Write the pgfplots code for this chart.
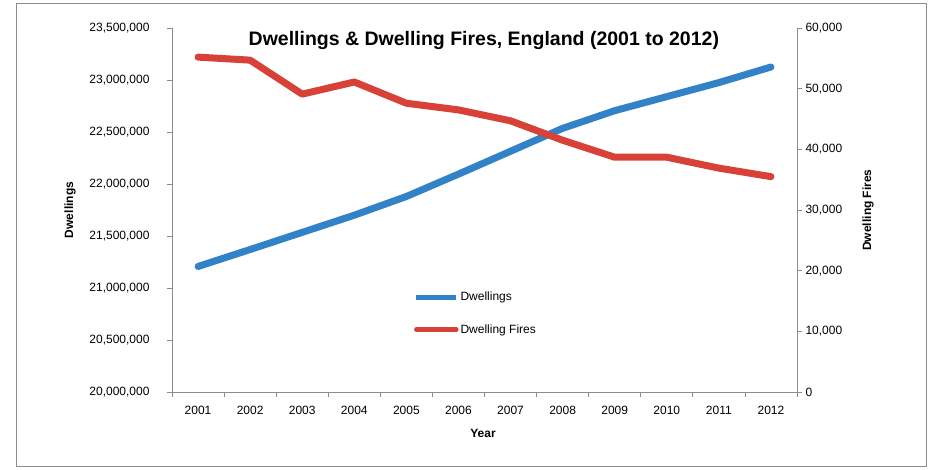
\documentclass[border=0pt]{standalone}
\usepackage{fontspec}
\setmainfont{Liberation Sans}
\usepackage{pgfplots}
\pgfplotsset{compat=1.18}
\definecolor{dblue}{RGB}{50,130,200}
\definecolor{dred}{RGB}{215,65,55}
\definecolor{axgray}{RGB}{140,140,140}

\begin{document}
\begin{tikzpicture}[x=1pt,y=1pt]
\path[use as bounding box] (0,0) rectangle (928,469);
\draw[axgray, line width=1pt] (16,3) rectangle (926,465);
\pgfplotsset{every axis/.append style={
  at={(172pt,77pt)}, anchor=south west,
  scale only axis, width=625pt, height=364pt,
  xmin=2000.5, xmax=2012.5,
  axis line style={axgray, line width=1pt},
  tick style={axgray, line width=0.8pt},
  tick align=outside, major tick length=5pt, minor tick length=5pt,
  /pgf/number format/assume math mode=true,
  tick label style={font=\fontsize{12}{14}\selectfont},
}}
\begin{axis}[
  axis y line*=left, axis x line*=bottom,
  ymin=20000000, ymax=23500000,
  ytick={20000000,20500000,21000000,21500000,22000000,22500000,23000000,23500000},
  scaled y ticks=false,
  yticklabel style={xshift=-14pt, /pgf/number format/.cd, fixed, 1000 sep={,}},
  xtick={2001,2002,2003,2004,2005,2006,2007,2008,2009,2010,2011,2012},
  major x tick style={draw=none},
  minor xtick={2000.5,2001.5,2002.5,2003.5,2004.5,2005.5,2006.5,2007.5,2008.5,2009.5,2010.5,2011.5,2012.5},
  xticklabel style={yshift=-6pt, /pgf/number format/1000 sep={}},
  ylabel={Dwellings}, xlabel={Year},
  every axis y label/.style={at={(rel axis cs:-0.163,0.5)}, rotate=90, anchor=center, font=\bfseries\fontsize{12}{14}\selectfont},
  every axis x label/.style={at={(rel axis cs:0.4976,-0.113)}, anchor=center, font=\bfseries\fontsize{12}{14}\selectfont},
  title={Dwellings \& Dwelling Fires, England (2001 to 2012)},
  title style={at={(rel axis cs:0.499,0.95)}, anchor=center, font=\bfseries\fontsize{19.5}{22}\selectfont},
]
\addplot[dblue, line width=7pt, line cap=round, line join=round] coordinates {
(2001,21207000) (2002,21370000) (2003,21535000) (2004,21700000) (2005,21880000) (2006,22095000)
(2007,22315000) (2008,22535000) (2009,22705000) (2010,22840000) (2011,22975000) (2012,23125000)};
\end{axis}
\begin{axis}[
  axis y line*=right, axis x line=none,
  ymin=0, ymax=60000,
  ytick={0,10000,20000,30000,40000,50000,60000},
  scaled y ticks=false,
  yticklabel style={/pgf/number format/.cd, fixed, 1000 sep={,}},
  ylabel={Dwelling Fires},
  every axis y label/.style={at={(rel axis cs:1.1136,0.5)}, rotate=90, anchor=center, font=\bfseries\fontsize{12}{14}\selectfont},
  legend style={at={(rel axis cs:0.387,0.28)}, anchor=north west, draw=none, fill=none,
    font=\fontsize{12}{14}\selectfont, row sep=18pt, inner sep=0pt},
  legend cell align=left,
  legend image code/.code={\draw[#1, line width=4.5pt] (0pt,0pt) -- (40pt,0pt);},
]
\addlegendimage{dblue}
\addlegendentry{Dwellings}
\addplot[dred, line width=7pt, line cap=round, line join=round] coordinates {
(2001,55200) (2002,54700) (2003,49100) (2004,51100) (2005,47600) (2006,46500)
(2007,44700) (2008,41500) (2009,38700) (2010,38700) (2011,36900) (2012,35500)};
\addlegendentry{Dwelling Fires}
\end{axis}
\end{tikzpicture}
\end{document}
